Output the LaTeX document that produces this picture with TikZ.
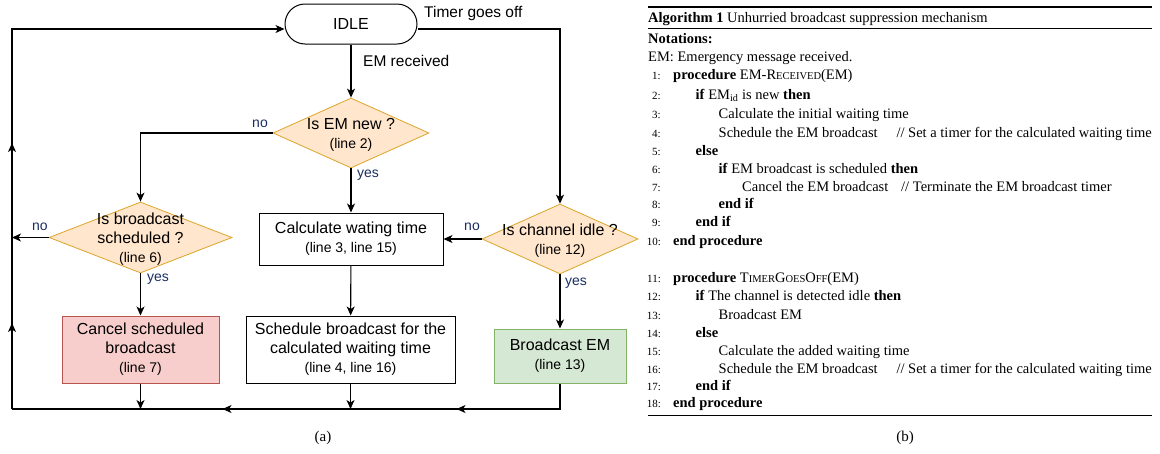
\documentclass[tikz,border=0pt]{standalone}
\usepackage{fontspec}
\setmainfont{Liberation Serif}
\newfontfamily\arialfont{Liberation Sans}
\usetikzlibrary{shapes.geometric, arrows.meta, decorations.markings}

\newcommand{\boxfont}{\arialfont\fontsize{16}{19}\selectfont}
\newcommand{\lineref}[1]{{\fontsize{14}{19}\selectfont #1}}
\newcommand{\fsc}[1]{{\fontsize{10.5}{12}\selectfont #1}}

\begin{document}
\begin{tikzpicture}[x=1pt, y=-1pt,
    >={Stealth[length=9pt, width=8pt, inset=2.5pt]},
    plain/.style={line width=1.1pt},
    flow/.style={line width=1.1pt, ->},
    midtip/.style={postaction={decorate, decoration={markings, mark=at position #1 with {\arrow{>}}}}},
    box/.style={draw, line width=1pt, font=\boxfont, align=center, inner sep=0pt},
    decision/.style={diamond, draw=dstroke, fill=dfill, line width=0.8pt, inner sep=0pt},
    dlabel/.style={font=\boxfont, align=center, inner sep=0pt, yshift=-2pt},
    yesno/.style={font=\arialfont\fontsize{14}{16}\selectfont, text=navy, inner sep=0pt},
    edgelabel/.style={font=\arialfont\fontsize{15.5}{18}\selectfont, inner sep=0pt},
    algtext/.style={font=\fontsize{14.5}{17}\selectfont, anchor=base west, inner sep=0pt},
    algnote/.style={font=\fontsize{14.5}{17}\selectfont, anchor=base east, inner sep=0pt},
    algnum/.style={font=\fontsize{11}{13}\selectfont, anchor=base east, inner sep=0pt}]

% Define colors
\definecolor{dfill}{RGB}{255, 230, 204}
\definecolor{dstroke}{RGB}{220, 165, 40}
\definecolor{gfill}{RGB}{213, 232, 212}
\definecolor{gstroke}{RGB}{130, 179, 102}
\definecolor{rfill}{RGB}{248, 206, 204}
\definecolor{rstroke}{RGB}{184, 84, 80}
\definecolor{navy}{RGB}{25, 45, 95}

\useasboundingbox (0,0) rectangle (1160,453);

% (a) Flowchart
\begin{scope}
    % States and actions
    \node[box, rounded corners=20pt, minimum width=132pt, minimum height=40pt] (idle) at (351,24) {IDLE};
    \node[box, minimum width=184pt, minimum height=52pt] (calc) at (351,239) {Calculate wating time\\\lineref{(line 3, line 15)}};
    \node[box, minimum width=209pt, minimum height=67pt] (sched) at (350.5,349.5) {Schedule broadcast for the\\calculated waiting time\\\lineref{(line 4, line 16)}};
    \node[box, draw=rstroke, fill=rfill, minimum width=157pt, minimum height=67pt] (cancel) at (140.5,349.5) {Cancel scheduled\\broadcast\\\lineref{(line 7)}};
    \node[box, draw=gstroke, fill=gfill, minimum width=132pt, minimum height=54pt] (bcast) at (560,356) {Broadcast EM\\\lineref{(line 13)}};

    % Decisions
    \node[decision, minimum width=156pt, minimum height=70pt] (new) at (351,133) {};
    \node[dlabel] (newtxt) at (new) {Is EM new ?\\\lineref{(line 2)}};
    \node[decision, minimum width=183pt, minimum height=71pt] (sch) at (140.5,237.5) {};
    \node[dlabel] (schtxt) at (sch) {Is broadcast\\scheduled ?\\\lineref{(line 6)}};
    \node[decision, minimum width=156pt, minimum height=70pt] (chan) at (560,239) {};
    \node[dlabel] (chantxt) at (chan) {Is channel idle ?\\\lineref{(line 12)}};

    % Loop corners
    \coordinate (bl) at (12,409);
    \coordinate (lno) at (bl |- sch);

    % Connectors
    \draw[flow] (idle) -- (new);
    \draw[flow] ([yshift=-5pt]idle.east) -| (chan.north);
    \draw[flow] (new.west) -| (sch.north);
    \draw[flow] (new) -- (calc);
    \draw[flow] (chan.west) -- (calc.east);
    \draw[flow] (chan) -- (bcast);
    \draw[flow] (sch.west) -- (lno);
    \draw[flow] (sch) -- (cancel);
    \draw[flow] (calc) -- (sched);
    \draw[flow] (sched.south) -- (sched.south |- bl);
    \draw[flow] (cancel.south) -- (cancel.south |- bl);
    \draw[plain, midtip=129pt, midtip=363pt] (bcast.south) |- (bl);
    \draw[flow, midtip=86pt, midtip=266pt] (bl) |- ([yshift=-5pt]idle.west);

    % Labels
    \node[edgelabel, anchor=west] (recv) at (363,61) {EM received};
    \node[edgelabel, anchor=west] (timer) at (424,13) {Timer goes off};
    \node[yesno] (no1) at (260,124) {no};
    \node[yesno] (yes1) at (368,175) {yes};
    \node[yesno] (no2) at (40,227) {no};
    \node[yesno] (yes2) at (158,279) {yes};
    \node[yesno] (no3) at (472,227) {no};
    \node[yesno] (yes3) at (576,283) {yes};

    \node[font=\fontsize{15}{17}\selectfont] (capa) at (323,438) {(a)};
\end{scope}

% (b) Algorithm
\begin{scope}[xshift=648]
    % Rules
    \draw[line width=1.4pt] (0,7) -- (504,7);
    \draw[line width=0.7pt] (0,28) -- (504,28);
    \draw[line width=0.7pt] (0,415) -- (504,415);

    \node[algtext] (title) at (0,22) {\textbf{Algorithm 1} Unhurried broadcast suppression mechanism};
    \node[algtext] (notes) at (0,43) {\textbf{Notations:}};
    \node[algtext] (em) at (0,61) {EM: Emergency message received.};

    % Line numbers
    \foreach \n/\y in {1/74, 2/94, 3/113, 4/132, 5/150, 6/168, 7/186, 8/203, 9/221,
        10/240, 11/277, 12/295, 13/314, 14/332, 15/350, 16/368, 17/385, 18/402}
        \node[algnum] (n\n) at (13,\y+5) {\n:};

    % Procedure EM-Received
    \node[algtext] (l1) at (25,79) {\textbf{procedure} EM-R\fsc{ECEIVED}(EM)};
    \node[algtext] (l2) at (47.5,99) {\textbf{if} EM\textsubscript{id} is new \textbf{then}};
    \node[algtext] (l3) at (70.5,118) {Calculate the initial waiting time};
    \node[algtext] (l4) at (70.5,137) {Schedule the EM broadcast};
    \node[algnote] (c4) at (504,137) {// Set a timer for the calculated waiting time};
    \node[algtext] (l5) at (47.5,155) {\textbf{else}};
    \node[algtext] (l6) at (70.5,173) {\textbf{if} EM broadcast is scheduled \textbf{then}};
    \node[algtext] (l7) at (94,191) {Cancel the EM broadcast};
    \node[algtext] (c7) at (253,191) {// Terminate the EM broadcast timer};
    \node[algtext] (l8) at (70.5,208) {\textbf{end if}};
    \node[algtext] (l9) at (47.5,226) {\textbf{end if}};
    \node[algtext] (l10) at (25,245) {\textbf{end procedure}};

    % Procedure TimerGoesOff
    \node[algtext] (l11) at (25,282) {\textbf{procedure} T\fsc{IMER}G\fsc{OES}O\fsc{FF}(EM)};
    \node[algtext] (l12) at (47.5,300) {\textbf{if} The channel is detected idle \textbf{then}};
    \node[algtext] (l13) at (70.5,319) {Broadcast EM};
    \node[algtext] (l14) at (47.5,337) {\textbf{else}};
    \node[algtext] (l15) at (70.5,355) {Calculate the added waiting time};
    \node[algtext] (l16) at (70.5,373) {Schedule the EM broadcast};
    \node[algnote] (c16) at (504,373) {// Set a timer for the calculated waiting time};
    \node[algtext] (l17) at (47.5,390) {\textbf{end if}};
    \node[algtext] (l18) at (25,407) {\textbf{end procedure}};

    \node[font=\fontsize{15}{17}\selectfont] (capb) at (257,438) {(b)};
\end{scope}

\end{tikzpicture}
\end{document}
